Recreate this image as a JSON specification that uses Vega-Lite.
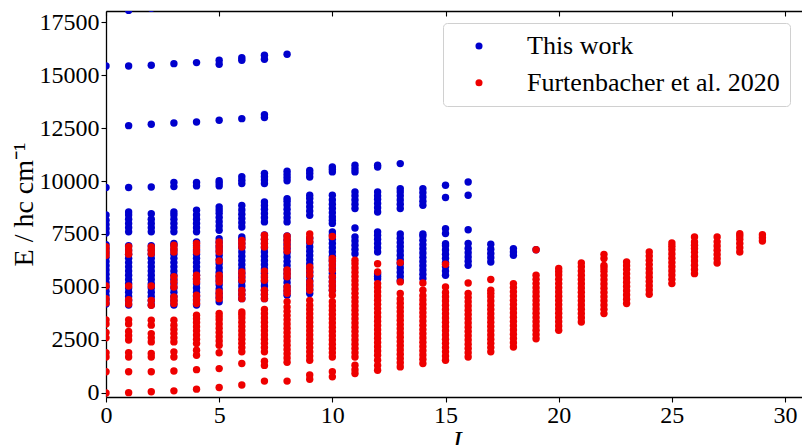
{
"$schema":"https://vega.github.io/schema/vega-lite/v6.json",
"autosize":{"type":"none"},
"padding":{"left":106,"top":11,"right":0,"bottom":48},
"width":713,"height":386,
"background":"white",
"config":{"view":{"stroke":null},"font":"Liberation Serif",
 "axis":{"labelFont":"Liberation Serif","labelFontSize":24,"labelColor":"black","tickColor":"black","domainColor":"black","domainWidth":1.3,"tickWidth":1.1,"grid":false,"titleFont":"Liberation Serif","titleColor":"black","titleFontWeight":"normal","labelFlush":false,"labelOverlap":false}},
"datasets":{
"blue":[
{"J":0,"E":15425},{"J":0,"E":9690},{"J":0,"E":7550},{"J":0,"E":7750},{"J":0,"E":7950},{"J":0,"E":8150},{"J":0,"E":8400},
{"J":0,"E":4200},{"J":0,"E":4400},{"J":0,"E":4600},{"J":0,"E":4800},{"J":0,"E":5000},{"J":0,"E":5200},{"J":0,"E":5400},{"J":0,"E":5600},{"J":0,"E":5800},{"J":0,"E":6000},{"J":0,"E":6200},{"J":0,"E":6400},{"J":0,"E":6600},{"J":0,"E":6800},{"J":0,"E":7000},
{"J":1,"E":18050},{"J":1,"E":15425},{"J":1,"E":12612},{"J":1,"E":9690},{"J":1,"E":7600},{"J":1,"E":7800},{"J":1,"E":8000},{"J":1,"E":8200},{"J":1,"E":8400},{"J":1,"E":8540},
{"J":1,"E":4150},{"J":1,"E":4350},{"J":1,"E":4550},{"J":1,"E":4750},{"J":1,"E":4950},{"J":1,"E":5150},{"J":1,"E":5350},{"J":1,"E":5550},{"J":1,"E":5750},{"J":1,"E":5950},{"J":1,"E":6150},{"J":1,"E":6350},{"J":1,"E":6550},{"J":1,"E":6750},{"J":1,"E":6950},
{"J":2,"E":18150},{"J":2,"E":15457},{"J":2,"E":12675},{"J":2,"E":9720},{"J":2,"E":7600},{"J":2,"E":7800},{"J":2,"E":8000},{"J":2,"E":8200},{"J":2,"E":8460},
{"J":2,"E":4150},{"J":2,"E":4350},{"J":2,"E":4550},{"J":2,"E":4750},{"J":2,"E":4950},{"J":2,"E":5150},{"J":2,"E":5350},{"J":2,"E":5550},{"J":2,"E":5750},{"J":2,"E":5950},{"J":2,"E":6150},{"J":2,"E":6350},{"J":2,"E":6550},{"J":2,"E":6750},{"J":2,"E":6950},
{"J":3,"E":15537},{"J":3,"E":12737},{"J":3,"E":9735},{"J":3,"E":9930},{"J":3,"E":7600},{"J":3,"E":7800},{"J":3,"E":8000},{"J":3,"E":8200},{"J":3,"E":8400},{"J":3,"E":8540},
{"J":3,"E":4150},{"J":3,"E":4350},{"J":3,"E":4550},{"J":3,"E":4750},{"J":3,"E":4950},{"J":3,"E":5150},{"J":3,"E":5350},{"J":3,"E":5550},{"J":3,"E":5750},{"J":3,"E":5950},{"J":3,"E":6150},{"J":3,"E":6350},{"J":3,"E":6550},{"J":3,"E":6750},{"J":3,"E":6950},{"J":3,"E":7050},
{"J":4,"E":15585},{"J":4,"E":12785},{"J":4,"E":9770},{"J":4,"E":9930},{"J":4,"E":7600},{"J":4,"E":7800},{"J":4,"E":8000},{"J":4,"E":8200},{"J":4,"E":8400},{"J":4,"E":8620},
{"J":4,"E":4150},{"J":4,"E":4350},{"J":4,"E":4550},{"J":4,"E":4750},{"J":4,"E":4950},{"J":4,"E":5150},{"J":4,"E":5350},{"J":4,"E":5550},{"J":4,"E":5750},{"J":4,"E":5950},{"J":4,"E":6150},{"J":4,"E":6350},{"J":4,"E":6550},{"J":4,"E":6750},{"J":4,"E":6950},{"J":4,"E":7130},
{"J":5,"E":15505},{"J":5,"E":15696},{"J":5,"E":12864},{"J":5,"E":9770},{"J":5,"E":9900},{"J":5,"E":10010},{"J":5,"E":7680},{"J":5,"E":7880},{"J":5,"E":8080},{"J":5,"E":8280},{"J":5,"E":8480},{"J":5,"E":8630},{"J":5,"E":8780},
{"J":5,"E":4300},{"J":5,"E":4500},{"J":5,"E":4700},{"J":5,"E":4900},{"J":5,"E":5100},{"J":5,"E":5300},{"J":5,"E":5500},{"J":5,"E":5700},{"J":5,"E":5900},{"J":5,"E":6100},{"J":5,"E":6300},{"J":5,"E":6500},{"J":5,"E":6700},{"J":5,"E":6900},{"J":5,"E":7100},{"J":5,"E":7280},
{"J":6,"E":15700},{"J":6,"E":15820},{"J":6,"E":12942},{"J":6,"E":9880},{"J":6,"E":10040},{"J":6,"E":10200},{"J":6,"E":7830},{"J":6,"E":8030},{"J":6,"E":8230},{"J":6,"E":8430},{"J":6,"E":8630},{"J":6,"E":8850},
{"J":6,"E":4450},{"J":6,"E":4650},{"J":6,"E":4850},{"J":6,"E":5050},{"J":6,"E":5250},{"J":6,"E":5450},{"J":6,"E":5650},{"J":6,"E":5850},{"J":6,"E":6050},{"J":6,"E":6250},{"J":6,"E":6450},{"J":6,"E":6650},{"J":6,"E":6850},{"J":6,"E":7050},{"J":6,"E":7250},{"J":6,"E":7360},
{"J":7,"E":15740},{"J":7,"E":15930},{"J":7,"E":12990},{"J":7,"E":13130},{"J":7,"E":9880},{"J":7,"E":10050},{"J":7,"E":10200},{"J":7,"E":10360},{"J":7,"E":8070},{"J":7,"E":8270},{"J":7,"E":8470},{"J":7,"E":8670},{"J":7,"E":8850},{"J":7,"E":9010},
{"J":7,"E":4450},{"J":7,"E":4650},{"J":7,"E":4850},{"J":7,"E":5050},{"J":7,"E":5250},{"J":7,"E":5450},{"J":7,"E":5650},{"J":7,"E":5850},{"J":7,"E":6050},{"J":7,"E":6250},{"J":7,"E":6450},{"J":7,"E":6650},{"J":7,"E":6850},{"J":7,"E":7050},{"J":7,"E":7250},{"J":7,"E":7450},
{"J":8,"E":15980},{"J":8,"E":10010},{"J":8,"E":10160},{"J":8,"E":10310},{"J":8,"E":10460},{"J":8,"E":8070},{"J":8,"E":8270},{"J":8,"E":8470},{"J":8,"E":8670},{"J":8,"E":8870},{"J":8,"E":9050},{"J":8,"E":9170},
{"J":8,"E":4610},{"J":8,"E":4810},{"J":8,"E":5010},{"J":8,"E":5210},{"J":8,"E":5410},{"J":8,"E":5610},{"J":8,"E":5810},{"J":8,"E":6010},{"J":8,"E":6210},{"J":8,"E":6410},{"J":8,"E":6610},{"J":8,"E":6810},{"J":8,"E":7010},{"J":8,"E":7210},{"J":8,"E":7410},
{"J":9,"E":10190},{"J":9,"E":10350},{"J":9,"E":10500},{"J":9,"E":8380},{"J":9,"E":8580},{"J":9,"E":8780},{"J":9,"E":8980},{"J":9,"E":9180},{"J":9,"E":9330},
{"J":9,"E":4690},{"J":9,"E":4890},{"J":9,"E":5090},{"J":9,"E":5290},{"J":9,"E":5490},{"J":9,"E":5690},{"J":9,"E":5890},{"J":9,"E":6090},{"J":9,"E":6290},{"J":9,"E":6490},{"J":9,"E":6690},{"J":9,"E":6890},{"J":9,"E":7090},{"J":9,"E":7290},
{"J":10,"E":10430},{"J":10,"E":10560},{"J":10,"E":10660},{"J":10,"E":8000},{"J":10,"E":8150},{"J":10,"E":8300},{"J":10,"E":8500},{"J":10,"E":8700},{"J":10,"E":8900},{"J":10,"E":9100},{"J":10,"E":9330},
{"J":10,"E":4850},{"J":10,"E":5050},{"J":10,"E":5250},{"J":10,"E":5450},{"J":10,"E":5650},{"J":10,"E":5850},{"J":10,"E":6050},{"J":10,"E":6250},{"J":10,"E":6450},{"J":10,"E":6650},{"J":10,"E":6850},{"J":10,"E":7050},{"J":10,"E":7250},{"J":10,"E":7450},{"J":10,"E":7600},
{"J":11,"E":10430},{"J":11,"E":10580},{"J":11,"E":10740},{"J":11,"E":8700},{"J":11,"E":8900},{"J":11,"E":9100},{"J":11,"E":9300},{"J":11,"E":9480},{"J":11,"E":7780},{"J":11,"E":6570},{"J":11,"E":6770},{"J":11,"E":6970},{"J":11,"E":7170},{"J":11,"E":7360},
{"J":12,"E":10660},{"J":12,"E":10740},{"J":12,"E":8540},{"J":12,"E":8740},{"J":12,"E":8940},{"J":12,"E":9140},{"J":12,"E":9300},{"J":12,"E":9480},{"J":12,"E":6650},{"J":12,"E":6850},{"J":12,"E":7050},{"J":12,"E":7250},{"J":12,"E":7440},{"J":12,"E":7600},{"J":12,"E":5390},{"J":12,"E":5510},{"J":12,"E":5630},
{"J":13,"E":10820},{"J":13,"E":8700},{"J":13,"E":8900},{"J":13,"E":9100},{"J":13,"E":9300},{"J":13,"E":9480},{"J":13,"E":9640},
{"J":13,"E":5300},{"J":13,"E":5500},{"J":13,"E":5700},{"J":13,"E":5900},{"J":13,"E":6100},{"J":13,"E":6300},{"J":13,"E":6500},{"J":13,"E":6700},{"J":13,"E":6900},{"J":13,"E":7100},{"J":13,"E":7300},{"J":13,"E":7500},
{"J":14,"E":8855},{"J":14,"E":9050},{"J":14,"E":9250},{"J":14,"E":9450},{"J":14,"E":9640},
{"J":14,"E":5400},{"J":14,"E":5600},{"J":14,"E":5800},{"J":14,"E":6000},{"J":14,"E":6200},{"J":14,"E":6400},{"J":14,"E":6600},{"J":14,"E":6800},{"J":14,"E":7000},{"J":14,"E":7200},{"J":14,"E":7400},{"J":14,"E":7500},
{"J":15,"E":9220},{"J":15,"E":9800},{"J":15,"E":7750},{"J":15,"E":7520},{"J":15,"E":5550},{"J":15,"E":5750},{"J":15,"E":5950},{"J":15,"E":6150},{"J":15,"E":6350},{"J":15,"E":6550},{"J":15,"E":6750},{"J":15,"E":6950},{"J":15,"E":7045},
{"J":16,"E":9325},{"J":16,"E":9955},{"J":16,"E":7700},{"J":16,"E":6020},{"J":16,"E":6220},{"J":16,"E":6420},{"J":16,"E":6620},{"J":16,"E":6820},{"J":16,"E":7050},
{"J":17,"E":6180},{"J":17,"E":6380},{"J":17,"E":6580},{"J":17,"E":6780},{"J":17,"E":7015},
{"J":18,"E":6500},{"J":18,"E":6650},{"J":18,"E":6810},
{"J":19,"E":6760}
],
"red":[
{"J":0,"E":0},{"J":0,"E":1000},{"J":0,"E":1700},{"J":0,"E":1900},{"J":0,"E":2600},{"J":0,"E":2850},{"J":0,"E":3250},{"J":0,"E":3450},{"J":0,"E":4250},{"J":0,"E":4450},{"J":0,"E":5050},{"J":0,"E":6500},{"J":0,"E":6700},{"J":0,"E":6900},
{"J":1,"E":15},{"J":1,"E":1000},{"J":1,"E":1700},{"J":1,"E":1900},{"J":1,"E":2500},{"J":1,"E":2700},{"J":1,"E":2900},{"J":1,"E":3250},{"J":1,"E":3450},{"J":1,"E":4200},{"J":1,"E":4400},{"J":1,"E":5050},{"J":1,"E":6550},{"J":1,"E":6700},{"J":1,"E":6900},
{"J":2,"E":60},{"J":2,"E":1000},{"J":2,"E":1700},{"J":2,"E":1860},{"J":2,"E":2410},{"J":2,"E":2600},{"J":2,"E":2800},{"J":2,"E":3200},{"J":2,"E":3430},{"J":2,"E":4140},{"J":2,"E":4370},{"J":2,"E":5050},{"J":2,"E":6575},{"J":2,"E":6730},{"J":2,"E":6890},
{"J":3,"E":100},{"J":3,"E":1040},{"J":3,"E":1700},{"J":3,"E":1940},{"J":3,"E":2410},{"J":3,"E":2600},{"J":3,"E":2800},{"J":3,"E":3000},{"J":3,"E":3200},{"J":3,"E":3430},{"J":3,"E":4220},{"J":3,"E":4380},{"J":3,"E":4530},{"J":3,"E":5000},{"J":3,"E":5250},{"J":3,"E":5480},{"J":3,"E":6650},{"J":3,"E":6810},{"J":3,"E":6970},
{"J":4,"E":180},{"J":4,"E":1100},{"J":4,"E":1780},{"J":4,"E":2020},{"J":4,"E":2330},{"J":4,"E":2530},{"J":4,"E":2730},{"J":4,"E":2930},{"J":4,"E":3130},{"J":4,"E":3330},{"J":4,"E":3500},{"J":4,"E":3670},{"J":4,"E":4220},{"J":4,"E":4420},{"J":4,"E":4610},{"J":4,"E":5240},{"J":4,"E":5400},{"J":4,"E":5550},{"J":4,"E":6650},{"J":4,"E":6850},{"J":4,"E":7050},
{"J":5,"E":260},{"J":5,"E":1150},{"J":5,"E":1900},{"J":5,"E":2250},{"J":5,"E":2450},{"J":5,"E":2650},{"J":5,"E":2850},{"J":5,"E":3050},{"J":5,"E":3250},{"J":5,"E":3450},{"J":5,"E":3600},{"J":5,"E":3750},{"J":5,"E":4450},{"J":5,"E":4610},{"J":5,"E":4770},{"J":5,"E":5240},{"J":5,"E":5400},{"J":5,"E":5550},{"J":5,"E":6230},{"J":5,"E":6650},{"J":5,"E":6810},{"J":5,"E":6970},{"J":5,"E":7130},
{"J":6,"E":380},{"J":6,"E":1390},{"J":6,"E":1940},{"J":6,"E":2140},{"J":6,"E":2340},{"J":6,"E":2540},{"J":6,"E":2740},{"J":6,"E":2940},{"J":6,"E":3140},{"J":6,"E":3340},{"J":6,"E":3540},{"J":6,"E":3700},{"J":6,"E":3820},{"J":6,"E":4450},{"J":6,"E":4650},{"J":6,"E":4840},{"J":6,"E":5320},{"J":6,"E":5520},{"J":6,"E":5710},{"J":6,"E":6890},{"J":6,"E":7050},{"J":6,"E":7200},
{"J":7,"E":560},{"J":7,"E":1300},{"J":7,"E":1500},{"J":7,"E":1940},{"J":7,"E":2140},{"J":7,"E":2340},{"J":7,"E":2540},{"J":7,"E":2740},{"J":7,"E":2940},{"J":7,"E":3140},{"J":7,"E":3340},{"J":7,"E":3540},{"J":7,"E":3740},{"J":7,"E":3940},{"J":7,"E":4450},{"J":7,"E":4650},{"J":7,"E":4850},{"J":7,"E":5320},{"J":7,"E":5520},{"J":7,"E":5750},{"J":7,"E":6890},{"J":7,"E":7050},{"J":7,"E":7250},{"J":7,"E":7440},
{"J":8,"E":560},{"J":8,"E":1450},{"J":8,"E":1650},{"J":8,"E":1850},{"J":8,"E":2050},{"J":8,"E":2250},{"J":8,"E":2450},{"J":8,"E":2650},{"J":8,"E":2850},{"J":8,"E":3050},{"J":8,"E":3250},{"J":8,"E":3450},{"J":8,"E":3650},{"J":8,"E":3850},{"J":8,"E":4050},{"J":8,"E":4300},{"J":8,"E":4700},{"J":8,"E":4850},{"J":8,"E":5000},{"J":8,"E":5480},{"J":8,"E":5650},{"J":8,"E":5800},{"J":8,"E":6700},{"J":8,"E":6900},{"J":8,"E":7100},{"J":8,"E":7250},{"J":8,"E":7400},
{"J":9,"E":650},{"J":9,"E":850},{"J":9,"E":1540},{"J":9,"E":1740},{"J":9,"E":1940},{"J":9,"E":2140},{"J":9,"E":2340},{"J":9,"E":2540},{"J":9,"E":2740},{"J":9,"E":2940},{"J":9,"E":3140},{"J":9,"E":3340},{"J":9,"E":3540},{"J":9,"E":3740},{"J":9,"E":3940},{"J":9,"E":4140},{"J":9,"E":4370},{"J":9,"E":4845},{"J":9,"E":5040},{"J":9,"E":5240},{"J":9,"E":5550},{"J":9,"E":5750},{"J":9,"E":5945},{"J":9,"E":7150},{"J":9,"E":7330},{"J":9,"E":7500},
{"J":10,"E":760},{"J":10,"E":1000},{"J":10,"E":1700},{"J":10,"E":1900},{"J":10,"E":2100},{"J":10,"E":2300},{"J":10,"E":2500},{"J":10,"E":2700},{"J":10,"E":2900},{"J":10,"E":3100},{"J":10,"E":3300},{"J":10,"E":3500},{"J":10,"E":3700},{"J":10,"E":3900},{"J":10,"E":4100},{"J":10,"E":4300},{"J":10,"E":4610},{"J":10,"E":4845},{"J":10,"E":5050},{"J":10,"E":5250},{"J":10,"E":5480},{"J":10,"E":5790},{"J":10,"E":6000},{"J":10,"E":6200},{"J":10,"E":6340},{"J":10,"E":7380},
{"J":11,"E":915},{"J":11,"E":1100},{"J":11,"E":1310},{"J":11,"E":1700},{"J":11,"E":1900},{"J":11,"E":2100},{"J":11,"E":2300},{"J":11,"E":2500},{"J":11,"E":2700},{"J":11,"E":2900},{"J":11,"E":3100},{"J":11,"E":3300},{"J":11,"E":3500},{"J":11,"E":3700},{"J":11,"E":3900},{"J":11,"E":4100},{"J":11,"E":4300},{"J":11,"E":4500},{"J":11,"E":4700},{"J":11,"E":4900},{"J":11,"E":5100},{"J":11,"E":5300},{"J":11,"E":5500},{"J":11,"E":5700},{"J":11,"E":5900},{"J":11,"E":6100},{"J":11,"E":6260},
{"J":12,"E":1070},{"J":12,"E":1300},{"J":12,"E":1540},{"J":12,"E":1780},{"J":12,"E":1980},{"J":12,"E":2180},{"J":12,"E":2380},{"J":12,"E":2580},{"J":12,"E":2780},{"J":12,"E":2980},{"J":12,"E":3180},{"J":12,"E":3380},{"J":12,"E":3580},{"J":12,"E":3780},{"J":12,"E":3980},{"J":12,"E":4180},{"J":12,"E":4380},{"J":12,"E":4580},{"J":12,"E":4780},{"J":12,"E":4980},{"J":12,"E":5160},{"J":12,"E":5710},{"J":12,"E":6100},
{"J":13,"E":1230},{"J":13,"E":1430},{"J":13,"E":1630},{"J":13,"E":1830},{"J":13,"E":2030},{"J":13,"E":2230},{"J":13,"E":2430},{"J":13,"E":2630},{"J":13,"E":2830},{"J":13,"E":3030},{"J":13,"E":3230},{"J":13,"E":3430},{"J":13,"E":3630},{"J":13,"E":3830},{"J":13,"E":4030},{"J":13,"E":4230},{"J":13,"E":4430},{"J":13,"E":4690},{"J":13,"E":5240},{"J":13,"E":6150},
{"J":14,"E":1390},{"J":14,"E":1590},{"J":14,"E":1790},{"J":14,"E":1990},{"J":14,"E":2190},{"J":14,"E":2390},{"J":14,"E":2590},{"J":14,"E":2790},{"J":14,"E":2990},{"J":14,"E":3190},{"J":14,"E":3390},{"J":14,"E":3590},{"J":14,"E":3790},{"J":14,"E":3990},{"J":14,"E":4190},{"J":14,"E":4390},{"J":14,"E":4590},{"J":14,"E":4850},{"J":14,"E":5190},
{"J":15,"E":1540},{"J":15,"E":1740},{"J":15,"E":1940},{"J":15,"E":2140},{"J":15,"E":2340},{"J":15,"E":2540},{"J":15,"E":2740},{"J":15,"E":2940},{"J":15,"E":3140},{"J":15,"E":3340},{"J":15,"E":3540},{"J":15,"E":3740},{"J":15,"E":3940},{"J":15,"E":4140},{"J":15,"E":4340},{"J":15,"E":4540},{"J":15,"E":4740},{"J":15,"E":5000},{"J":15,"E":6070},
{"J":16,"E":1700},{"J":16,"E":1900},{"J":16,"E":2100},{"J":16,"E":2300},{"J":16,"E":2500},{"J":16,"E":2700},{"J":16,"E":2900},{"J":16,"E":3100},{"J":16,"E":3300},{"J":16,"E":3500},{"J":16,"E":3700},{"J":16,"E":3900},{"J":16,"E":4100},{"J":16,"E":4300},{"J":16,"E":4500},{"J":16,"E":4690},{"J":16,"E":5190},
{"J":17,"E":1940},{"J":17,"E":2140},{"J":17,"E":2340},{"J":17,"E":2540},{"J":17,"E":2740},{"J":17,"E":2940},{"J":17,"E":3140},{"J":17,"E":3340},{"J":17,"E":3540},{"J":17,"E":3740},{"J":17,"E":3940},{"J":17,"E":4140},{"J":17,"E":4340},{"J":17,"E":4540},{"J":17,"E":4700},{"J":17,"E":4845},{"J":17,"E":5350},
{"J":18,"E":2170},{"J":18,"E":2370},{"J":18,"E":2570},{"J":18,"E":2770},{"J":18,"E":2970},{"J":18,"E":3170},{"J":18,"E":3370},{"J":18,"E":3570},{"J":18,"E":3770},{"J":18,"E":3970},{"J":18,"E":4170},{"J":18,"E":4370},{"J":18,"E":4570},{"J":18,"E":4770},{"J":18,"E":4970},{"J":18,"E":5160},
{"J":19,"E":2560},{"J":19,"E":2760},{"J":19,"E":2960},{"J":19,"E":3160},{"J":19,"E":3360},{"J":19,"E":3560},{"J":19,"E":3760},{"J":19,"E":3960},{"J":19,"E":4160},{"J":19,"E":4360},{"J":19,"E":4560},{"J":19,"E":4760},{"J":19,"E":4960},{"J":19,"E":5160},{"J":19,"E":5360},{"J":19,"E":5550},{"J":19,"E":6760},
{"J":20,"E":2960},{"J":20,"E":3160},{"J":20,"E":3360},{"J":20,"E":3560},{"J":20,"E":3760},{"J":20,"E":3960},{"J":20,"E":4160},{"J":20,"E":4360},{"J":20,"E":4560},{"J":20,"E":4760},{"J":20,"E":4960},{"J":20,"E":5160},{"J":20,"E":5360},{"J":20,"E":5560},{"J":20,"E":5720},{"J":20,"E":5870},
{"J":21,"E":3350},{"J":21,"E":3550},{"J":21,"E":3750},{"J":21,"E":3950},{"J":21,"E":4150},{"J":21,"E":4350},{"J":21,"E":4550},{"J":21,"E":4750},{"J":21,"E":4950},{"J":21,"E":5150},{"J":21,"E":5350},{"J":21,"E":5550},{"J":21,"E":5750},{"J":21,"E":5950},{"J":21,"E":6130},
{"J":22,"E":3745},{"J":22,"E":3945},{"J":22,"E":4145},{"J":22,"E":4345},{"J":22,"E":4545},{"J":22,"E":4745},{"J":22,"E":4945},{"J":22,"E":5145},{"J":22,"E":5345},{"J":22,"E":5545},{"J":22,"E":5745},{"J":22,"E":5900},{"J":22,"E":6020},{"J":22,"E":6340},{"J":22,"E":6540},
{"J":23,"E":4220},{"J":23,"E":4420},{"J":23,"E":4620},{"J":23,"E":4820},{"J":23,"E":5020},{"J":23,"E":5220},{"J":23,"E":5420},{"J":23,"E":5620},{"J":23,"E":5820},{"J":23,"E":6000},{"J":23,"E":6180},
{"J":24,"E":4656},{"J":24,"E":4856},{"J":24,"E":5056},{"J":24,"E":5256},{"J":24,"E":5456},{"J":24,"E":5656},{"J":24,"E":5856},{"J":24,"E":6056},{"J":24,"E":6256},{"J":24,"E":6456},{"J":24,"E":6650},
{"J":25,"E":5160},{"J":25,"E":5360},{"J":25,"E":5560},{"J":25,"E":5760},{"J":25,"E":5960},{"J":25,"E":6160},{"J":25,"E":6360},{"J":25,"E":6560},{"J":25,"E":6760},{"J":25,"E":6920},{"J":25,"E":7080},
{"J":26,"E":5630},{"J":26,"E":5830},{"J":26,"E":6030},{"J":26,"E":6230},{"J":26,"E":6430},{"J":26,"E":6630},{"J":26,"E":6810},{"J":26,"E":6970},{"J":26,"E":7125},{"J":26,"E":7360},
{"J":27,"E":6130},{"J":27,"E":6330},{"J":27,"E":6530},{"J":27,"E":6730},{"J":27,"E":6930},{"J":27,"E":7130},{"J":27,"E":7360},
{"J":28,"E":6650},{"J":28,"E":6850},{"J":28,"E":7050},{"J":28,"E":7250},{"J":28,"E":7400},{"J":28,"E":7517},
{"J":29,"E":7170},{"J":29,"E":7320},{"J":29,"E":7470}
]},
"layer":[
{"data":{"name":"blue"},
 "mark":{"type":"circle","size":55,"opacity":1,"clip":true},
 "encoding":{
  "x":{"field":"J","type":"quantitative","scale":{"domain":[0,31.5],"nice":false,"zero":false},
   "axis":{"orient":"bottom","values":[0,5,10,15,20,25,30],"format":"d","tickSize":5,"labelPadding":1,"title":"J","titleFontStyle":"italic","titleFontSize":28,"titleX":349,"titleY":52,"titleBaseline":"alphabetic","titleAlign":"center"}},
  "y":{"field":"E","type":"quantitative","scale":{"domain":[-190,18020],"nice":false,"zero":false},
   "axis":{"values":[0,2500,5000,7500,10000,12500,15000,17500],"format":"d","tickSize":5,"labelPadding":2,"title":"E / hc cm⁻¹","titleFontSize":28,"titleAngle":270,"titleX":-74,"titleY":193,"titleBaseline":"alphabetic","titleAlign":"center"}},
  "color":{"datum":"This work","type":"nominal",
   "scale":{"domain":["This work","Furtenbacher et al. 2020"],"range":["#0000cd","#ee0000"]},
   "legend":{"orient":"none","legendX":337,"legendY":12,"title":null,"padding":10,"rowPadding":10.7,"labelFontSize":26,"labelFont":"Liberation Serif","labelColor":"black","labelOffset":35,"symbolOffset":13,"symbolSize":50,"symbolType":"circle","symbolStrokeWidth":0,"strokeColor":"#d0d0d0","fillColor":"white","cornerRadius":4,"labelLimit":500}}
 }},
{"data":{"name":"red"},
 "mark":{"type":"circle","size":55,"opacity":1,"clip":true},
 "encoding":{
  "x":{"field":"J","type":"quantitative",
   "axis":{"orient":"top","values":[0,5,10,15,20,25,30],"labels":false,"title":null,"tickSize":-5}},
  "y":{"field":"E","type":"quantitative"},
  "color":{"datum":"Furtenbacher et al. 2020","type":"nominal"}
 }}
],
"resolve":{"axis":{"x":"independent"}}
}
